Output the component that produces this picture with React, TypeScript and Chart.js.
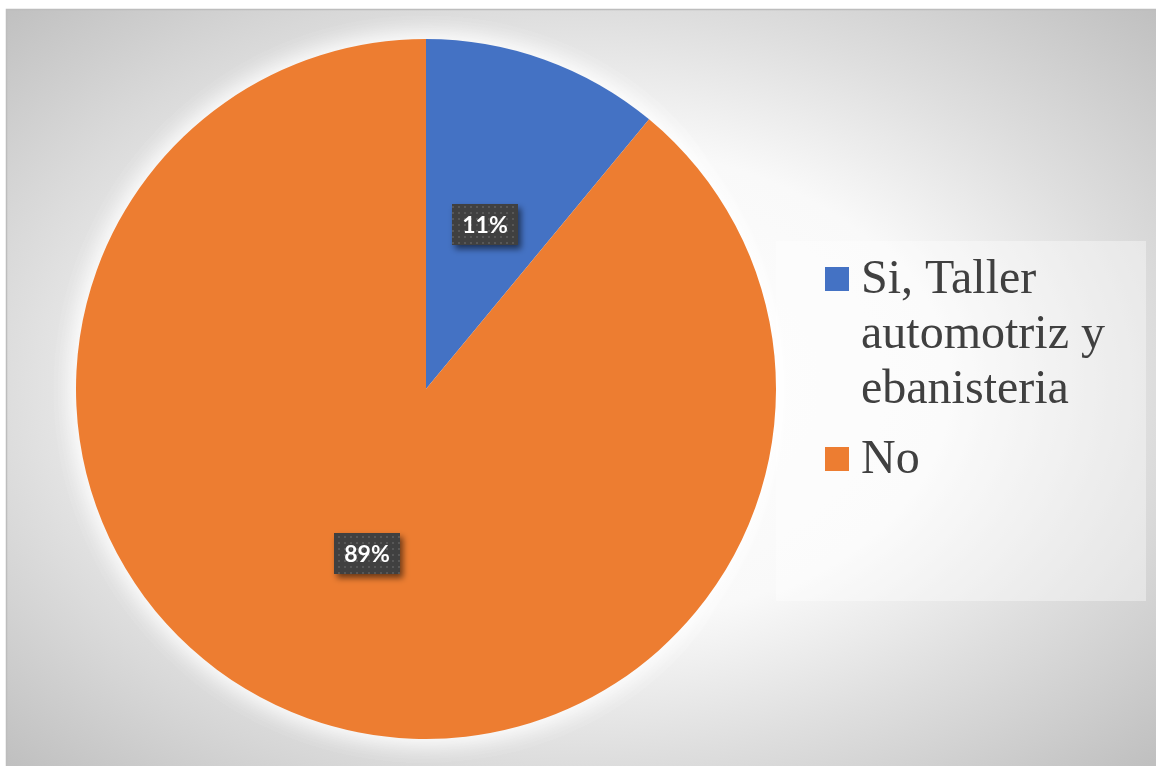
import React, { useEffect, useRef } from "react";
import { Chart, registerables } from "chart.js";
Chart.register(...registerables);

const categories = ["Si, Taller automotriz y ebanisteria", "No"];
const values = [11, 89];
const sliceColors = ["#4472C4", "#ED7D31"];

const W = 1156;
const H = 766;

function makePattern(ctx: CanvasRenderingContext2D) {
  const c = document.createElement("canvas");
  c.width = 6;
  c.height = 6;
  const p = c.getContext("2d")!;
  p.fillStyle = "#404040";
  p.fillRect(0, 0, 6, 6);
  p.fillStyle = "#575757";
  p.fillRect(2, 2, 2, 2);
  return ctx.createPattern(c, "repeat");
}

const backgroundPlugin = {
  id: "bgFrame",
  beforeDraw(chart: any) {
    const ctx: CanvasRenderingContext2D = chart.ctx;
    ctx.save();
    ctx.fillStyle = "#ffffff";
    ctx.fillRect(0, 0, W, H);
    const x0 = 6, y0 = 9, x1 = 1152, y1 = 762;
    const cx = (x0 + x1) / 2, cy = (y0 + y1) / 2;
    const rx = ((x1 - x0) / 2) * Math.SQRT2, ry = ((y1 - y0) / 2) * Math.SQRT2;
    ctx.save();
    ctx.translate(cx, cy);
    ctx.scale(rx, ry);
    const g = ctx.createRadialGradient(0, 0, 0, 0, 0, 1);
    g.addColorStop(0, "#ffffff");
    g.addColorStop(0.45, "#f9f9f9");
    g.addColorStop(0.7, "#dedede");
    g.addColorStop(1, "#c0c0c0");
    ctx.fillStyle = g;
    ctx.fillRect((x0 - cx) / rx, (y0 - cy) / ry, (W - x0) / rx, (H - y0) / ry);
    ctx.restore();
    ctx.strokeStyle = "#bdbdbd";
    ctx.lineWidth = 1.5;
    ctx.beginPath();
    ctx.moveTo(6.5, H);
    ctx.lineTo(6.5, 9.5);
    ctx.lineTo(W, 9.5);
    ctx.stroke();
    ctx.restore();
  },
  beforeDatasetsDraw(chart: any) {
    const ctx: CanvasRenderingContext2D = chart.ctx;
    const arc = chart.getDatasetMeta(0).data[0];
    if (!arc) return;
    const { x, y, outerRadius } = arc.getProps(["x", "y", "outerRadius"], true);
    ctx.save();
    ctx.fillStyle = "#ffffff";
    ctx.shadowColor = "rgba(255,255,255,1)";
    ctx.shadowBlur = 28;
    for (let i = 0; i < 2; i++) {
      ctx.beginPath();
      ctx.arc(x, y, outerRadius - 1, 0, Math.PI * 2);
      ctx.fill();
    }
    ctx.restore();
  },
};

function wrapText(ctx: CanvasRenderingContext2D, text: string, maxW: number) {
  const words = text.split(" ");
  const lines: string[] = [];
  let cur = "";
  for (const w of words) {
    const t = cur ? cur + " " + w : w;
    if (cur && ctx.measureText(t).width > maxW) {
      lines.push(cur);
      cur = w;
    } else cur = t;
  }
  if (cur) lines.push(cur);
  return lines;
}

const overlayPlugin = {
  id: "overlay",
  afterDatasetsDraw(chart: any) {
    const ctx: CanvasRenderingContext2D = chart.ctx;
    const ds = chart.data.datasets[0];
    const data: number[] = ds.data;
    const total = data.reduce((a, b) => a + b, 0);
    const meta = chart.getDatasetMeta(0);
    const pattern = makePattern(ctx);

    // data labels
    meta.data.forEach((arc: any, i: number) => {
      const p = arc.getCenterPoint();
      const txt = Math.round((data[i] / total) * 100) + "%";
      ctx.save();
      ctx.font = "bold 23px Lato";
      const tw = ctx.measureText(txt).width;
      const bw = Math.round(tw + 20);
      const bh = 41;
      const bx = Math.round(p.x - bw / 2);
      const by = Math.round(p.y - bh / 2);
      ctx.shadowColor = "rgba(0,0,0,0.55)";
      ctx.shadowBlur = 6;
      ctx.shadowOffsetX = 3;
      ctx.shadowOffsetY = 4;
      ctx.fillStyle = pattern || "#404040";
      ctx.fillRect(bx, by, bw, bh);
      ctx.shadowColor = "transparent";
      ctx.fillStyle = "#ffffff";
      ctx.textAlign = "center";
      ctx.textBaseline = "middle";
      ctx.fillText(txt, bx + bw / 2, by + bh / 2 + 1);
      ctx.restore();
    });

    // legend
    ctx.save();
    const lx0 = 776, ly0 = 241, lx1 = 1146, ly1 = 601;
    ctx.fillStyle = "rgba(255,255,255,0.38)";
    ctx.fillRect(lx0, ly0, lx1 - lx0, ly1 - ly0);
    ctx.font = "48px 'Liberation Serif'";
    ctx.textBaseline = "alphabetic";
    ctx.textAlign = "left";
    let baseline = 293;
    const lineH = 55;
    const gap = 15;
    chart.data.labels.forEach((lab: string, i: number) => {
      const lines = wrapText(ctx, lab, 275);
      ctx.fillStyle = ds.backgroundColor[i];
      ctx.fillRect(825, baseline - 26, 24, 24);
      ctx.fillStyle = "#404040";
      lines.forEach((ln, k) => {
        ctx.fillText(ln, 861, baseline + k * lineH);
      });
      baseline += lines.length * lineH + gap;
    });
    ctx.restore();
  },
};

export default function App() {
  const ref = useRef<HTMLCanvasElement | null>(null);
  useEffect(() => {
    if (!ref.current) return;
    const chart = new Chart(ref.current, {
      type: "pie",
      data: {
        labels: categories,
        datasets: [
          {
            data: values,
            backgroundColor: sliceColors,
            borderWidth: 0,
          },
        ],
      },
      options: {
        responsive: false,
        animation: false,
        layout: { padding: { left: 76, right: 380, top: 39, bottom: 27 } },
        plugins: {
          legend: { display: false },
          tooltip: { enabled: false },
        },
      },
      plugins: [backgroundPlugin, overlayPlugin],
    } as any);
    return () => chart.destroy();
  }, []);
  return (
    <div style={{ position: "absolute", left: 0, top: 0, width: W, height: H }}>
      <canvas ref={ref} width={W} height={H} />
    </div>
  );
}
